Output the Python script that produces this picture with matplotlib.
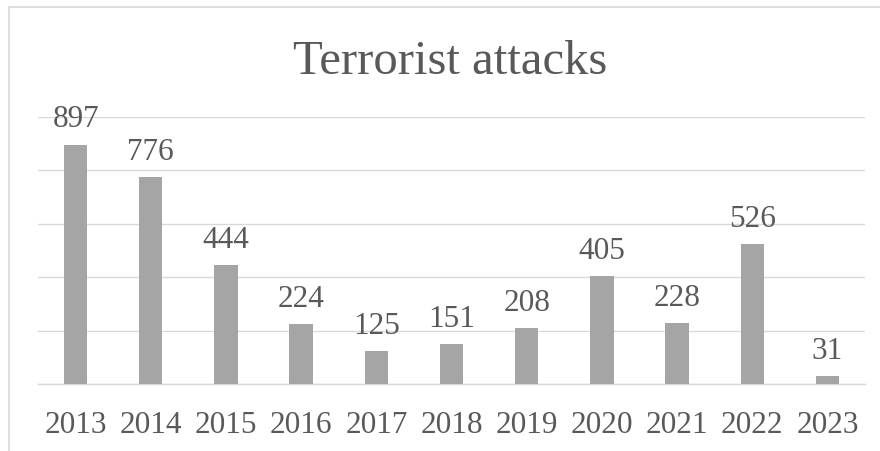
import matplotlib.pyplot as plt
from matplotlib.lines import Line2D

# dados do grafico
years = ['2013', '2014', '2015', '2016', '2017', '2018', '2019', '2020', '2021', '2022', '2023']
attacks = [897, 776, 444, 224, 125, 151, 208, 405, 228, 526, 31]

text_color = '#595959'
bar_color = '#A5A5A5'
grid_color = '#D9D9D9'
W, H = 880, 452

plt.rcParams['font.family'] = ['Liberation Serif', 'DejaVu Serif']

fig = plt.figure(figsize=(W / 100, H / 100), dpi=100)
ax = fig.add_axes([38 / W, 1 - 385 / H, (865 - 38) / W, (385 - 118) / H])

x = range(len(years))
ax.bar(x, attacks, width=0.31, color=bar_color, zorder=3)

for i, v in zip(x, attacks):
    ax.annotate(str(v), (i, v), xytext=(0, 13), textcoords='offset points',
                ha='center', va='baseline', fontsize=22.5, color=text_color)

ax.set_xlim(-0.5, len(years) - 0.5)
ax.set_ylim(0, 1000)
ax.set_yticks(range(0, 1001, 200))
ax.yaxis.grid(True, color=grid_color, linewidth=1.0, zorder=0)
ax.set_xticks(list(x))
ax.set_xticklabels(years, fontsize=22.5, color=text_color)
ax.tick_params(axis='x', length=0, pad=19)
ax.tick_params(axis='y', length=0, labelleft=False)
for s in ['top', 'right', 'left']:
    ax.spines[s].set_visible(False)
ax.spines['bottom'].set_color(grid_color)
ax.spines['bottom'].set_linewidth(1.0)

fig.text(450 / W, 1 - 74 / H, 'Terrorist attacks', ha='center', va='baseline',
         fontsize=35, color=text_color)

# borda do grafico (so topo e esquerda aparecem)
fig.add_artist(Line2D([8.5 / W, 1.0], [1 - 7.5 / H, 1 - 7.5 / H],
                      transform=fig.transFigure, color=grid_color, linewidth=1.2))
fig.add_artist(Line2D([8.5 / W, 8.5 / W], [0, 1 - 7.5 / H],
                      transform=fig.transFigure, color=grid_color, linewidth=1.2))

fig.savefig('out.png', dpi=100)
